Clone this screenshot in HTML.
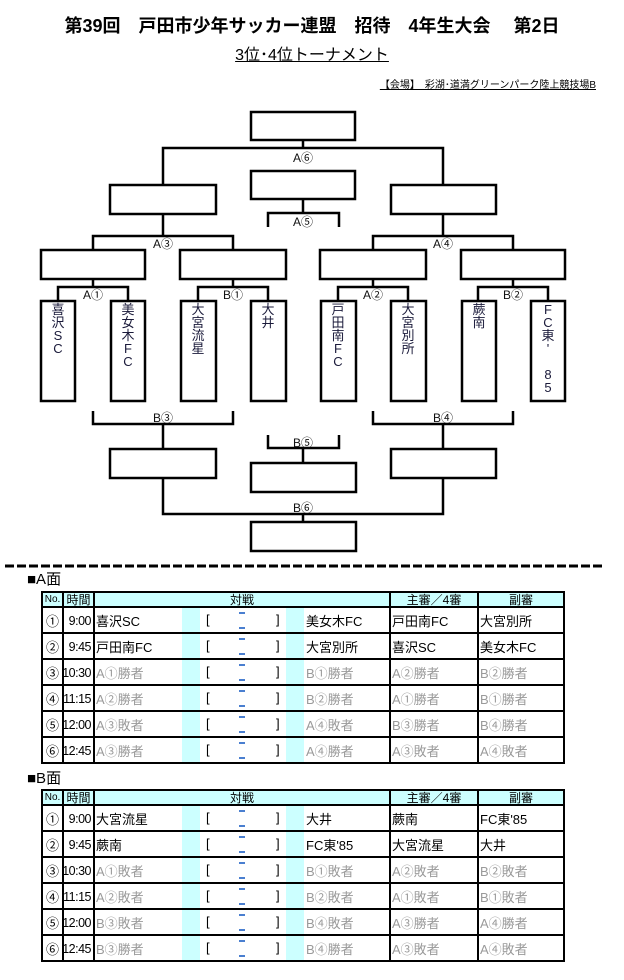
<!DOCTYPE html>
<html><head><meta charset="utf-8">
<style>
body{margin:0;width:624px;height:980px;background:#fff;position:relative;font-family:"Liberation Sans","Noto Sans CJK JP",sans-serif;overflow:hidden}
.a{position:absolute}
.t1{left:0;width:624px;top:12px;text-align:center;font-size:18px;font-weight:bold;white-space:pre}
.t2{left:0;width:624px;top:41px;text-align:center;font-size:16px}
.t2 span{text-decoration:underline}
.t3{right:28px;top:76px;font-size:10px;text-decoration:underline;white-space:pre}
.v{font-size:13px;line-height:13px;color:#1a1a3a;text-align:center;width:14px}
.lbl{font-size:12px;color:#111;transform:translateX(-50%)}
table{position:absolute;left:41px;width:522px;table-layout:fixed;border-collapse:collapse;font-size:13px}
td{border:2px solid #000;height:24px;padding:0;white-space:nowrap;overflow:hidden;vertical-align:middle}
tr.h td{height:13px;background:#ccffff;text-align:center;font-size:12px;line-height:12px}
td.n{text-align:center}
td.l{border-right:none;padding-left:1px}
td.c{border-left:none;border-right:none;background:#ccffff}
td.s{border-left:none;border-right:none;position:relative}
td.r{border-left:none;padding-left:2px}
td.f{padding-left:1px}
.g{color:#9a9a9a}
.s i{position:absolute;font-style:normal;top:4px}
.s b{position:absolute;left:39px;width:6px;height:2px;background:#4a7fd0}
.sec{font-size:15px;left:27px}
.tt{position:absolute;left:55px;width:36px;text-align:right;font-size:12.5px;letter-spacing:-0.5px;line-height:16px;z-index:2;white-space:nowrap}
</style></head><body>
<div class="a t1">第39回　戸田市少年サッカー連盟　招待　4年生大会　 第2日</div>
<div class="a t2"><span>3位･4位トーナメント</span></div>
<div class="a t3">【会場】　彩湖･道満グリーンパーク陸上競技場B</div>

<svg class="a" style="left:0;top:0" width="624" height="570">
<g fill="none" stroke="#000" stroke-width="2.5">
<rect x="251" y="112" width="104" height="28"/>
<polyline points="303,140 303,148"/>
<polyline points="163,185 163,148 443,148 443,185"/>
<rect x="251" y="171" width="104" height="28"/>
<polyline points="303,199 303,213"/>
<polyline points="268,227 268,213 339,213 339,227"/>
<rect x="110" y="185" width="106" height="29"/>
<rect x="391" y="185" width="105" height="29"/>
<polyline points="163,214 163,236"/>
<polyline points="443,214 443,236"/>
<polyline points="93,250 93,236 233,236 233,250"/>
<polyline points="373,250 373,236 513,236 513,250"/>
<rect x="41" y="250" width="104" height="29"/>
<rect x="180" y="250" width="106" height="29"/>
<rect x="320" y="250" width="106" height="29"/>
<rect x="461" y="250" width="104" height="29"/>
<polyline points="93,279 93,287"/><polyline points="233,279 233,287"/>
<polyline points="373,279 373,287"/><polyline points="513,279 513,287"/>
<polyline points="58,301 58,287 128,287 128,301"/>
<polyline points="198,301 198,287 268,287 268,301"/>
<polyline points="338,301 338,287 408,287 408,301"/>
<polyline points="478,301 478,287 548,287 548,301"/>
<rect x="41" y="301" width="34" height="100"/>
<rect x="111" y="301" width="34" height="100"/>
<rect x="181" y="301" width="35" height="100"/>
<rect x="251" y="301" width="35" height="100"/>
<rect x="321" y="301" width="35" height="100"/>
<rect x="391" y="301" width="35" height="100"/>
<rect x="462" y="301" width="34" height="100"/>
<rect x="531" y="301" width="34" height="100"/>
<polyline points="93,411 93,424 233,424 233,411"/>
<polyline points="373,411 373,424 513,424 513,411"/>
<polyline points="163,424 163,449"/><polyline points="443,424 443,449"/>
<rect x="110" y="449" width="106" height="29"/>
<rect x="391" y="449" width="105" height="29"/>
<polyline points="268,435 268,448 339,448 339,435"/>
<polyline points="303,448 303,463"/>
<rect x="251" y="463" width="105" height="29"/>
<polyline points="163,478 163,514 443,514 443,478"/>
<polyline points="303,514 303,522"/>
<rect x="251" y="522" width="105" height="29"/>
<line x1="5" y1="566" x2="602" y2="566" stroke-width="3" stroke-dasharray="9 3"/>
</g>
</svg>

<div class="a lbl" style="left:303px;top:149px">A⑥</div>
<div class="a lbl" style="left:303px;top:213px">A⑤</div>
<div class="a lbl" style="left:163px;top:235px">A③</div>
<div class="a lbl" style="left:443px;top:235px">A④</div>
<div class="a lbl" style="left:93px;top:286px">A①</div>
<div class="a lbl" style="left:233px;top:286px">B①</div>
<div class="a lbl" style="left:373px;top:286px">A②</div>
<div class="a lbl" style="left:513px;top:286px">B②</div>
<div class="a lbl" style="left:163px;top:409px">B③</div>
<div class="a lbl" style="left:443px;top:409px">B④</div>
<div class="a lbl" style="left:303px;top:434px">B⑤</div>
<div class="a lbl" style="left:303px;top:499px">B⑥</div>

<div class="a v" style="left:51px;top:303px">喜<br>沢<br>S<br>C</div>
<div class="a v" style="left:121px;top:303px">美<br>女<br>木<br>F<br>C</div>
<div class="a v" style="left:191px;top:303px">大<br>宮<br>流<br>星</div>
<div class="a v" style="left:261px;top:303px">大<br>井</div>
<div class="a v" style="left:331px;top:303px">戸<br>田<br>南<br>F<br>C</div>
<div class="a v" style="left:401px;top:303px">大<br>宮<br>別<br>所</div>
<div class="a v" style="left:472px;top:303px">蕨<br>南</div>
<div class="a v" style="left:541px;top:303px">F<br>C<br>東<br>'<br><br>8<br>5</div>

<div class="a sec" style="top:568px">■A面</div>
<table style="top:591px">
<colgroup><col style="width:21px"><col style="width:31px"><col style="width:88px"><col style="width:18px"><col style="width:86px"><col style="width:18px"><col style="width:86px"><col style="width:88px"><col style="width:86px"></colgroup>
<tr class="h"><td class="n" style="font-size:10px">No.</td><td style="text-align:center">時間</td><td colspan="5">対戦</td><td>主審／4審</td><td>副審</td></tr>
<tr><td class="n">①</td><td></td><td class="l">喜沢SC</td><td class="c"></td><td class="s"><i style="left:6px">[</i><b style="top:4px"></b><b style="top:19px"></b><i style="left:76px">]</i></td><td class="c"></td><td class="r">美女木FC</td><td class="f">戸田南FC</td><td class="f">大宮別所</td></tr>
<tr><td class="n">②</td><td></td><td class="l">戸田南FC</td><td class="c"></td><td class="s"><i style="left:6px">[</i><b style="top:4px"></b><b style="top:19px"></b><i style="left:76px">]</i></td><td class="c"></td><td class="r">大宮別所</td><td class="f">喜沢SC</td><td class="f">美女木FC</td></tr>
<tr><td class="n">③</td><td></td><td class="l g">A①勝者</td><td class="c"></td><td class="s"><i style="left:6px">[</i><b style="top:4px"></b><b style="top:19px"></b><i style="left:76px">]</i></td><td class="c"></td><td class="r g">B①勝者</td><td class="f g">A②勝者</td><td class="f g">B②勝者</td></tr>
<tr><td class="n">④</td><td></td><td class="l g">A②勝者</td><td class="c"></td><td class="s"><i style="left:6px">[</i><b style="top:4px"></b><b style="top:19px"></b><i style="left:76px">]</i></td><td class="c"></td><td class="r g">B②勝者</td><td class="f g">A①勝者</td><td class="f g">B①勝者</td></tr>
<tr><td class="n">⑤</td><td></td><td class="l g">A③敗者</td><td class="c"></td><td class="s"><i style="left:6px">[</i><b style="top:4px"></b><b style="top:19px"></b><i style="left:76px">]</i></td><td class="c"></td><td class="r g">A④敗者</td><td class="f g">B③勝者</td><td class="f g">B④勝者</td></tr>
<tr><td class="n">⑥</td><td></td><td class="l g">A③勝者</td><td class="c"></td><td class="s"><i style="left:6px">[</i><b style="top:4px"></b><b style="top:19px"></b><i style="left:76px">]</i></td><td class="c"></td><td class="r g">A④勝者</td><td class="f g">A③敗者</td><td class="f g">A④敗者</td></tr>
</table>
<div class="tt" style="top:613px">9:00</div>
<div class="tt" style="top:639px">9:45</div>
<div class="tt" style="top:665px">10:30</div>
<div class="tt" style="top:691px">11:15</div>
<div class="tt" style="top:717px">12:00</div>
<div class="tt" style="top:743px">12:45</div>

<div class="a sec" style="top:767px">■B面</div>
<table style="top:789px">
<colgroup><col style="width:21px"><col style="width:31px"><col style="width:88px"><col style="width:18px"><col style="width:86px"><col style="width:18px"><col style="width:86px"><col style="width:88px"><col style="width:86px"></colgroup>
<tr class="h"><td class="n" style="font-size:10px">No.</td><td style="text-align:center">時間</td><td colspan="5">対戦</td><td>主審／4審</td><td>副審</td></tr>
<tr><td class="n">①</td><td></td><td class="l">大宮流星</td><td class="c"></td><td class="s"><i style="left:6px">[</i><b style="top:4px"></b><b style="top:19px"></b><i style="left:76px">]</i></td><td class="c"></td><td class="r">大井</td><td class="f">蕨南</td><td class="f">FC東'85</td></tr>
<tr><td class="n">②</td><td></td><td class="l">蕨南</td><td class="c"></td><td class="s"><i style="left:6px">[</i><b style="top:4px"></b><b style="top:19px"></b><i style="left:76px">]</i></td><td class="c"></td><td class="r">FC東'85</td><td class="f">大宮流星</td><td class="f">大井</td></tr>
<tr><td class="n">③</td><td></td><td class="l g">A①敗者</td><td class="c"></td><td class="s"><i style="left:6px">[</i><b style="top:4px"></b><b style="top:19px"></b><i style="left:76px">]</i></td><td class="c"></td><td class="r g">B①敗者</td><td class="f g">A②敗者</td><td class="f g">B②敗者</td></tr>
<tr><td class="n">④</td><td></td><td class="l g">A②敗者</td><td class="c"></td><td class="s"><i style="left:6px">[</i><b style="top:4px"></b><b style="top:19px"></b><i style="left:76px">]</i></td><td class="c"></td><td class="r g">B②敗者</td><td class="f g">A①敗者</td><td class="f g">B①敗者</td></tr>
<tr><td class="n">⑤</td><td></td><td class="l g">B③敗者</td><td class="c"></td><td class="s"><i style="left:6px">[</i><b style="top:4px"></b><b style="top:19px"></b><i style="left:76px">]</i></td><td class="c"></td><td class="r g">B④敗者</td><td class="f g">A③勝者</td><td class="f g">A④勝者</td></tr>
<tr><td class="n">⑥</td><td></td><td class="l g">B③勝者</td><td class="c"></td><td class="s"><i style="left:6px">[</i><b style="top:4px"></b><b style="top:19px"></b><i style="left:76px">]</i></td><td class="c"></td><td class="r g">B④勝者</td><td class="f g">A③敗者</td><td class="f g">A④敗者</td></tr>
</table>
<div class="tt" style="top:811px">9:00</div>
<div class="tt" style="top:837px">9:45</div>
<div class="tt" style="top:863px">10:30</div>
<div class="tt" style="top:889px">11:15</div>
<div class="tt" style="top:915px">12:00</div>
<div class="tt" style="top:941px">12:45</div>
</body></html>
